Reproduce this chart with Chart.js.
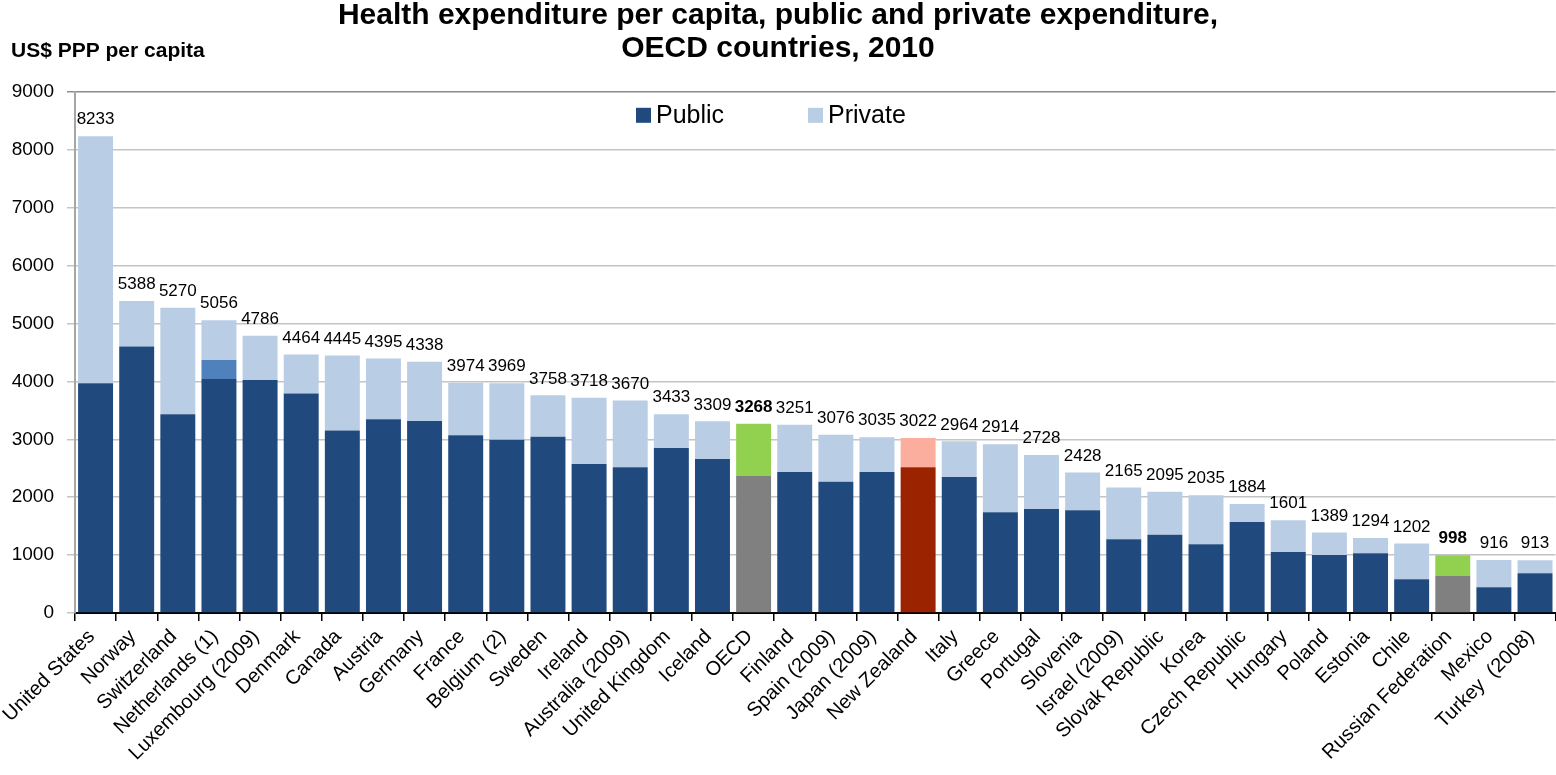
<!DOCTYPE html>
<html>
<head>
<meta charset="utf-8">
<title>Health expenditure per capita, OECD 2010</title>
<script src="https://cdn.jsdelivr.net/npm/chart.js@4.4.1/dist/chart.umd.min.js"></script>
<style>
    html, body { margin: 0; padding: 0; background: #fff; }
    #wrap { width: 1556px; height: 775px; }
</style>
</head>
<body>
<div id="wrap"><canvas id="mainChart"></canvas></div>
<script>
const countries = [
    'United States', 'Norway', 'Switzerland', 'Netherlands (1)', 'Luxembourg (2009)', 'Denmark',
    'Canada', 'Austria', 'Germany', 'France', 'Belgium (2)', 'Sweden', 'Ireland', 'Australia (2009)',
    'United Kingdom', 'Iceland', 'OECD', 'Finland', 'Spain (2009)', 'Japan (2009)', 'New Zealand',
    'Italy', 'Greece', 'Portugal', 'Slovenia', 'Israel (2009)', 'Slovak Republic', 'Korea',
    'Czech Republic', 'Hungary', 'Poland', 'Estonia', 'Chile', 'Russian Federation', 'Mexico',
    'Turkey  (2008)'
];

// total per capita, printed above each bar
const totalValues = [
    8233, 5388, 5270, 5056, 4786, 4464, 4445, 4395, 4338, 3974, 3969, 3758, 3718, 3670,
    3433, 3309, 3268, 3251, 3076, 3035, 3022, 2964, 2914, 2728, 2428, 2165, 2095, 2035,
    1884, 1601, 1389, 1294, 1202, 998, 916, 913
];

const publicValues = [
    3967, 4600, 3430, 4040, 4022, 3790, 3150, 3345, 3316, 3070, 2990, 3045, 2573, 2516,
    2850, 2660, 2366, 2435, 2268, 2435, 2516, 2349, 1739, 1796, 1773, 1272, 1353, 1186,
    1572, 1054, 1002, 1031, 582, 639, 444, 686
];

// Netherlands: part not allocated between public and private
const unallocatedValues = [
    0, 0, 0, 330, 0, 0, 0, 0, 0, 0, 0, 0, 0, 0,
    0, 0, 0, 0, 0, 0, 0, 0, 0, 0, 0, 0, 0, 0,
    0, 0, 0, 0, 0, 0, 0, 0
];

const privateValues = [
    4266, 788, 1840, 686, 764, 674, 1295, 1050, 1022, 904, 979, 713, 1145, 1154,
    583, 649, 902, 816, 808, 600, 506, 615, 1175, 932, 655, 893, 742, 849,
    312, 547, 387, 263, 620, 359, 472, 227
];

const yTicks = [0, 1000, 2000, 3000, 4000, 5000, 6000, 7000, 8000, 9000];

const averageBars = ['OECD', 'Russian Federation'];
const focusBars = ['New Zealand'];

const FONT = "'Liberation Sans', Arial, Helvetica, sans-serif";
Chart.defaults.font.family = FONT;
Chart.defaults.color = '#000';

function colorFor(name, normal, average, focus) {
    if (averageBars.includes(name)) return average;
    if (focusBars.includes(name)) return focus;
    return normal;
}

const publicColors = countries.map(c => colorFor(c, '#204A7D', '#808080', '#9B2300'));
const privateColors = countries.map(c => colorFor(c, '#B9CDE5', '#92D050', '#FBAE9E'));

// axis title top-left
const axisTitlePlugin = {
    id: 'axisTitle',
    afterDraw(chart) {
        const c = chart.ctx;
        c.save();
        c.font = 'bold 21px ' + FONT;
        c.fillStyle = '#000';
        c.textAlign = 'left';
        c.textBaseline = 'alphabetic';
        c.fillText('US$ PPP per capita', 11, 57);
        c.restore();
    }
};

// totals above the stacks
const totalsPlugin = {
    id: 'totals',
    afterDatasetsDraw(chart) {
        const c = chart.ctx;
        const xScale = chart.scales.x;
        const yScale = chart.scales.y;
        c.save();
        c.fillStyle = '#000';
        c.textAlign = 'center';
        c.textBaseline = 'bottom';
        totalValues.forEach((v, i) => {
            const bold = averageBars.includes(countries[i]);
            c.font = (bold ? 'bold ' : '') + '17px ' + FONT;
            c.fillText(String(v), xScale.getPixelForValue(i), yScale.getPixelForValue(v) - 8);
        });
        c.restore();
    }
};

// legend inside the plot area
const innerLegendPlugin = {
    id: 'innerLegend',
    afterDraw(chart) {
        const c = chart.ctx;
        const area = chart.chartArea;
        const items = [
            { label: chart.data.datasets[0].label, color: '#204A7D', x: area.left + 561 },
            { label: chart.data.datasets[2].label, color: '#B9CDE5', x: area.left + 733 }
        ];
        const y = area.top + 16;
        c.save();
        c.font = '25px ' + FONT;
        c.textAlign = 'left';
        c.textBaseline = 'middle';
        items.forEach(it => {
            c.fillStyle = it.color;
            c.fillRect(it.x, y, 15, 15);
            c.fillStyle = '#000';
            c.fillText(it.label, it.x + 20, y + 8);
        });
        c.restore();
    }
};

const ctx = document.getElementById('mainChart').getContext('2d');
new Chart(ctx, {
    type: 'bar',
    data: {
        labels: countries,
        datasets: [
            { label: 'Public', data: publicValues, backgroundColor: publicColors },
            { label: 'Not allocated', data: unallocatedValues, backgroundColor: '#4F81BD' },
            { label: 'Private', data: privateValues, backgroundColor: privateColors }
        ]
    },
    options: {
        responsive: true,
        maintainAspectRatio: false,
        animation: false,
        barPercentage: 0.85,
        categoryPercentage: 1.0,
        layout: { padding: { left: 0, right: 0, top: 0, bottom: 0 } },
        scales: {
            x: {
                stacked: true,
                offset: true,
                border: { display: true, color: '#000', width: 2 },
                grid: {
                    display: true,
                    offset: true,
                    drawOnChartArea: false,
                    drawTicks: true,
                    tickLength: 8,
                    color: '#000',
                    lineWidth: 1.5
                },
                ticks: {
                    autoSkip: false,
                    minRotation: 45,
                    maxRotation: 45,
                    padding: 4,
                    labelOffset: -4,
                    font: { size: 20 },
                    color: '#000'
                },
                afterFit(scale) { scale.height = 162; }
            },
            y: {
                stacked: true,
                min: 0,
                max: 9000,
                afterBuildTicks(scale) { scale.ticks = yTicks.map(v => ({ value: v })); },
                border: { display: true, color: '#A6A6A6', width: 2 },
                grid: {
                    color: ctx => (ctx.tick && ctx.tick.value === 9000) ? '#8C8C8C' : '#C4C4C4',
                    lineWidth: 1.5,
                    tickLength: 8
                },
                ticks: {
                    padding: 13,
                    font: { size: 19 },
                    color: '#000',
                    callback: v => String(v)
                },
                afterFit(scale) { scale.width = 75; }
            }
        },
        plugins: {
            legend: { display: false },
            tooltip: { enabled: false },
            title: {
                display: true,
                text: ['Health expenditure per capita, public and private expenditure,', 'OECD countries, 2010'],
                font: { size: 30, weight: 'bold', lineHeight: 1.08 },
                color: '#000',
                padding: { top: 0, bottom: 27 }
            }
        }
    },
    plugins: [axisTitlePlugin, totalsPlugin, innerLegendPlugin]
});
</script>
</body>
</html>
